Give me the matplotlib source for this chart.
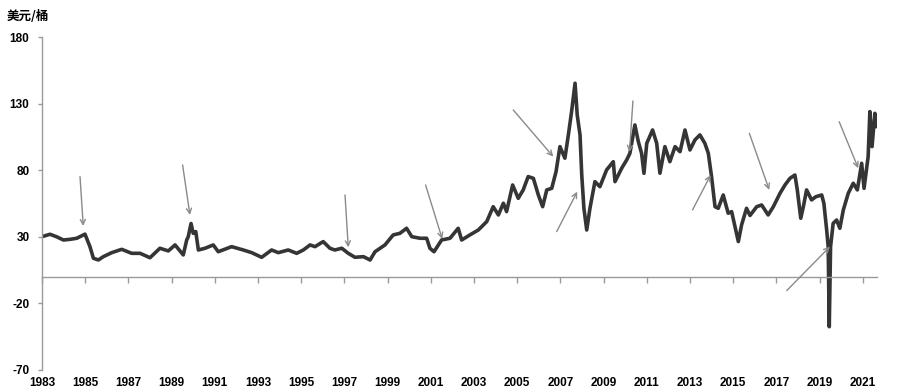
import matplotlib
matplotlib.use("Agg")
import matplotlib.pyplot as plt

plt.rcParams['font.family'] = ['Liberation Sans', 'Noto Sans CJK SC', 'DejaVu Sans']

# position along the axis (label-years) and price in USD/bbl
years = [1983.0, 1983.37, 1983.68, 1983.99, 1984.30, 1984.61, 1984.99, 1985.22, 1985.38, 1985.61,
         1985.84, 1986.23, 1986.69, 1987.15, 1987.54, 1988.00, 1988.46, 1988.85, 1989.16, 1989.54,
         1989.70, 1989.77, 1989.90, 1990.00, 1990.12, 1990.24, 1990.55, 1990.93, 1991.16, 1991.78,
         1992.32, 1992.71, 1993.17, 1993.63, 1993.94, 1994.40, 1994.79, 1995.10, 1995.41, 1995.64,
         1996.02, 1996.33, 1996.56, 1996.88, 1997.18, 1997.49, 1997.88, 1998.19, 1998.42, 1998.88,
         1999.26, 1999.57, 1999.88, 2000.12, 2000.50, 2000.81, 2000.96, 2001.15, 2001.50, 2001.89,
         2002.27, 2002.43, 2002.81, 2003.20, 2003.59, 2003.89, 2004.13, 2004.36, 2004.51, 2004.79,
         2005.05, 2005.28, 2005.51, 2005.75, 2005.98, 2006.18, 2006.37, 2006.60, 2006.80, 2006.98,
         2007.21, 2007.37, 2007.52, 2007.68, 2007.78, 2007.91, 2007.99, 2008.09, 2008.22, 2008.37,
         2008.60, 2008.83, 2009.14, 2009.45, 2009.53, 2009.84, 2010.07, 2010.22, 2010.45, 2010.61,
         2010.76, 2010.87, 2011.00, 2011.27, 2011.46, 2011.61, 2011.84, 2012.07, 2012.31, 2012.54,
         2012.77, 2013.00, 2013.23, 2013.46, 2013.69, 2013.85, 2014.00, 2014.16, 2014.31, 2014.54,
         2014.77, 2014.93, 2015.24, 2015.39, 2015.62, 2015.78, 2016.09, 2016.32, 2016.62, 2016.86,
         2017.17, 2017.40, 2017.63, 2017.86, 2017.97, 2018.13, 2018.25, 2018.40, 2018.63, 2018.83,
         2019.10, 2019.20, 2019.33, 2019.40, 2019.45, 2019.51, 2019.63, 2019.79, 2019.94, 2020.10,
         2020.33, 2020.56, 2020.75, 2020.95, 2021.06, 2021.25, 2021.33, 2021.43, 2021.56, 2021.61,
         2021.65]
prices = [30.1, 31.9, 30.0, 27.6, 28.1, 28.9, 32.0, 22.6, 13.9, 12.6,
          15.1, 18.1, 20.6, 17.6, 17.6, 14.3, 21.4, 19.4, 23.9, 16.4,
          27.6, 30.0, 40.0, 32.6, 33.9, 20.1, 21.4, 23.9, 18.8, 22.6,
          20.1, 18.1, 14.6, 20.1, 18.1, 20.1, 17.6, 20.1, 23.9, 22.6,
          26.4, 21.4, 20.1, 21.4, 17.6, 14.6, 15.1, 12.6, 18.8, 23.9,
          31.4, 32.6, 36.4, 30.1, 28.9, 28.9, 21.4, 18.8, 27.6, 28.9,
          36.4, 27.6, 31.4, 35.1, 41.4, 52.6, 46.4, 55.2, 48.9, 68.9,
          58.9, 65.2, 75.2, 73.9, 61.4, 52.6, 65.2, 66.4, 78.9, 97.7,
          89.0, 106.5, 124.0, 145.3, 121.5, 106.5, 76.4, 51.4, 35.1, 51.4,
          71.4, 67.6, 80.2, 86.4, 71.4, 81.5, 87.7, 92.7, 114.0, 101.4,
          92.7, 77.7, 100.2, 110.2, 100.2, 77.7, 97.7, 86.4, 97.7, 93.9,
          110.2, 95.2, 102.7, 106.5, 100.2, 92.7, 75.2, 52.6, 51.4, 61.4,
          47.7, 48.9, 26.4, 38.9, 51.4, 46.0, 52.6, 53.9, 46.4, 52.6,
          62.7, 68.9, 73.9, 76.4, 65.2, 43.9, 52.6, 65.2, 57.7, 60.1,
          61.4, 55.2, 35.1, 22.6, -37.5, 22.6, 40.1, 42.6, 36.4, 50.1,
          62.7, 70.2, 65.2, 85.2, 66.4, 90.2, 124.0, 97.7, 122.7, 112.7,
          120.0]

# annotation arrows: (tail year, tail price, head year, head price)
arrow_tail_x = [1984.76, 1989.51, 1997.03, 2000.76, 2004.82, 2006.83, 2010.36, 2013.12, 2015.75, 2017.48, 2019.91]
arrow_tail_y = [75.2, 83.9, 61.4, 68.9, 125.2, 33.9, 132.0, 50.2, 107.7, -10.4, 116.4]
arrow_head_x = [1984.91, 1989.85, 1997.18, 2001.53, 2006.67, 2007.78, 2010.20, 2013.96, 2016.67, 2019.48, 2020.79]
arrow_head_y = [38.1, 46.4, 22.1, 28.4, 90.2, 63.9, 93.7, 76.4, 65.2, 22.6, 81.5]

x_ticks = list(range(1983, 2022, 2))
y_ticks = [-70, -20, 30, 80, 130, 180]
x_min, x_max = 1983, 2021.66
y_min, y_max = -70, 180

axis_grey = '#9a9a9a'

fig = plt.figure(figsize=(9, 3.91), dpi=100)
ax = fig.add_axes([42 / 900, 21 / 391, 835 / 900, 333 / 391])

ax.plot(years, prices, color='#353535', lw=2.6, solid_joinstyle='round')

for tx, ty, hx, hy in zip(arrow_tail_x, arrow_tail_y, arrow_head_x, arrow_head_y):
    ax.annotate('', xy=(hx, hy), xytext=(tx, ty),
                arrowprops=dict(arrowstyle='->', color='#8a8a8a', lw=1.0,
                                shrinkA=0, shrinkB=0, mutation_scale=9))

ax.set_xlim(x_min, x_max)
ax.set_ylim(y_min, y_max)
ax.set_yticks(y_ticks)
ax.set_yticklabels([str(v) for v in y_ticks], fontsize=8.5, fontweight='bold')
ax.tick_params(axis='y', length=3, width=1, color=axis_grey, pad=6)

for side in ['top', 'right']:
    ax.spines[side].set_visible(False)
ax.spines['left'].set_color(axis_grey)
ax.spines['left'].set_linewidth(1)

# zero line with the ticks hanging below it
ax.spines['bottom'].set_position(('data', 0))
ax.spines['bottom'].set_color(axis_grey)
ax.spines['bottom'].set_linewidth(1)
ax.set_xticks(x_ticks)
ax.tick_params(axis='x', direction='out', length=4, width=1, color=axis_grey, labelbottom=False)

# year labels stay at the bottom edge
sec = ax.secondary_xaxis(0)
sec.spines['bottom'].set_visible(False)
sec.set_xticks(x_ticks)
sec.set_xticklabels([str(y) for y in x_ticks], fontsize=8.5, fontweight='bold')
sec.tick_params(axis='x', length=0, pad=5)

fig.text(7 / 900, 1 - 17 / 391, '美元/桶', fontsize=9, fontweight='bold',
         family=['Noto Sans CJK SC', 'DejaVu Sans'], va='center', ha='left')

fig.savefig('out.png', dpi=100)
